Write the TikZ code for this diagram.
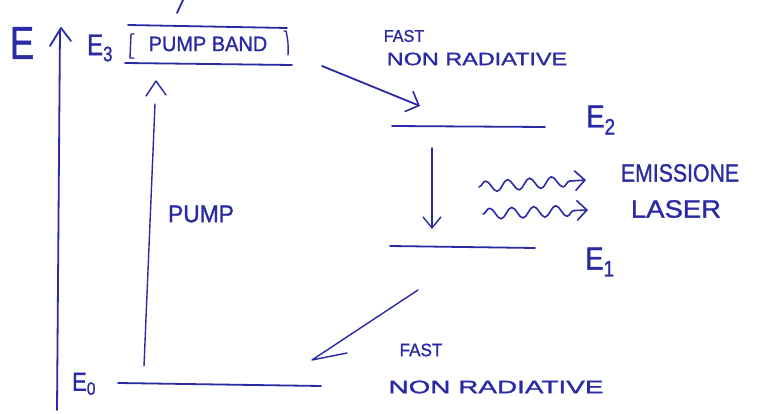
\documentclass[tikz,border=0pt]{standalone}
\usepackage{fontspec}
\usepackage{graphicx}
\setmainfont{Liberation Sans}[FakeBold=1.2]
\usetikzlibrary{arrows.meta,decorations.pathmorphing}
\definecolor{ink}{RGB}{42,42,165}
\newcommand\fs[1]{\fontsize{#1}{#1}\selectfont}
\newcommand\hsc[2]{\scalebox{#1}[1]{#2}}
\begin{document}
\begin{tikzpicture}[x=1pt,y=-1pt,
  pen/.style={draw=ink,line width=1.8pt,line cap=round,line join=round},
  thin/.style={draw=ink,line width=1.4pt,line cap=round,line join=round},
  lbl/.style={text=ink,inner sep=0pt,anchor=center},
  barb/.style={-{Straight Barb[length=11pt,width=22pt,line width=1.6pt]}},
  wtip/.style={-{Straight Barb[length=10pt,width=20pt,line width=1.6pt]}},
  wave/.style={thin,line width=1.6pt,decorate,decoration={snake,amplitude=5.5pt,segment length=22pt,post length=8pt,pre length=0pt}},
 ]
\useasboundingbox[fill=white] (0,0) rectangle (766,414);

% energy axis
\coordinate (ax0) at (57,410);
\coordinate (ax1) at (60,30);
\draw[pen] (ax0) -- (ax1);
\coordinate (a1) at (50,46);
\coordinate (a2) at (61,28);
\coordinate (a3) at (71,41);
\draw[pen] (a1) -- (a2) -- (a3);
\node[lbl,font=\fs{46}] (E) at (22,43) {\hsc{0.8}{E}};
\node[lbl,font=\fs{30}] (E3) at (100,48) {\hsc{0.8}{E\textsubscript{3}}};

% pump band
\coordinate (b1) at (128,25);
\coordinate (b2) at (287,28);
\coordinate (b3) at (125,63);
\coordinate (b4) at (292,65);
\draw[pen] (b1) -- (b2);
\draw[pen] (b3) -- (b4);
\coordinate (l1) at (131,34);
\coordinate (l2) at (130,58);
\coordinate (r1) at (286,31);
\coordinate (r2) at (288,55);
\draw[thin] ([xshift=3pt]l1) -- (l1) -- (l2) -- ([xshift=4pt]l2);
\draw[thin] ([xshift=-2pt]r1) -- (r1) to[bend left=8] (r2);
\node[lbl,font=\fs{21}] (band) at (208,44) {\hsc{0.95}{PUMP BAND}};

% stray mark
\coordinate (s1) at (177,13);
\coordinate (s2) at (183,0);
\draw[pen] (s1) -- (s2);

% pump arrow
\coordinate (p0) at (144,366);
\coordinate (p1) at (155,104);
\draw[thin] (p0) -- (p1);
\coordinate (c1) at (146,96);
\coordinate (c2) at (156,81);
\coordinate (c3) at (166,95);
\draw[thin] (c1) -- (c2) -- (c3);
\node[lbl,font=\fs{24}] (pump) at (201,214) {\hsc{0.95}{PUMP}};

% fast non radiative (top)
\coordinate (f0) at (322,66);
\coordinate (f1) at (420,106);
\draw[pen,barb] (f0) -- (f1);
\node[lbl,font=\fs{17}] (fast1) at (404,36) {\hsc{0.95}{FAST}};
\node[lbl,font=\fs{18}] (nr1) at (477,59) {\hsc{1.3}{NON RADIATIVE}};

% E2
\coordinate (e2a) at (392,126);
\coordinate (e2b) at (545,127);
\draw[pen] (e2a) -- (e2b);
\node[lbl,font=\fs{32}] (E2) at (601,120) {\hsc{0.85}{E\textsubscript{2}}};

% down arrow
\coordinate (d0) at (432,148);
\coordinate (d1) at (432,229);
\draw[thin,-{Straight Barb[length=11pt,width=18pt,line width=1.4pt]}] (d0) -- (d1);

% laser emission
\coordinate (w0) at (479,187);
\coordinate (w1) at (586,180);
\coordinate (w2) at (483,214);
\coordinate (w3) at (588,210);
\draw[wave,wtip] (w0) -- (w1);
\draw[wave,wtip] (w2) -- (w3);
\node[lbl,font=\fs{25}] (em) at (680,173) {\hsc{0.85}{EMISSIONE}};
\node[lbl,font=\fs{25}] (las) at (676,209) {\hsc{1.1}{LASER}};

% E1
\coordinate (e1a) at (390,246);
\coordinate (e1b) at (535,248);
\draw[pen] (e1a) -- (e1b);
\node[lbl,font=\fs{32}] (E1) at (600,262) {\hsc{0.85}{E\textsubscript{1}}};

% fast non radiative (bottom)
\coordinate (g0) at (418,290);
\coordinate (g1) at (312,360);
\coordinate (g2) at (347,353);
\draw[thin] (g0) -- (g1) -- (g2);
\node[lbl,font=\fs{18}] (fast2) at (421,350) {\hsc{0.95}{FAST}};
\node[lbl,font=\fs{18}] (nr2) at (496,387) {\hsc{1.55}{NON RADIATIVE}};

% E0
\coordinate (e0a) at (118,383);
\coordinate (e0b) at (321,386);
\draw[pen] (e0a) -- (e0b);
\node[lbl,font=\fs{26}] (E0) at (84,384) {\hsc{0.85}{E\textsubscript{0}}};
\end{tikzpicture}
\end{document}
